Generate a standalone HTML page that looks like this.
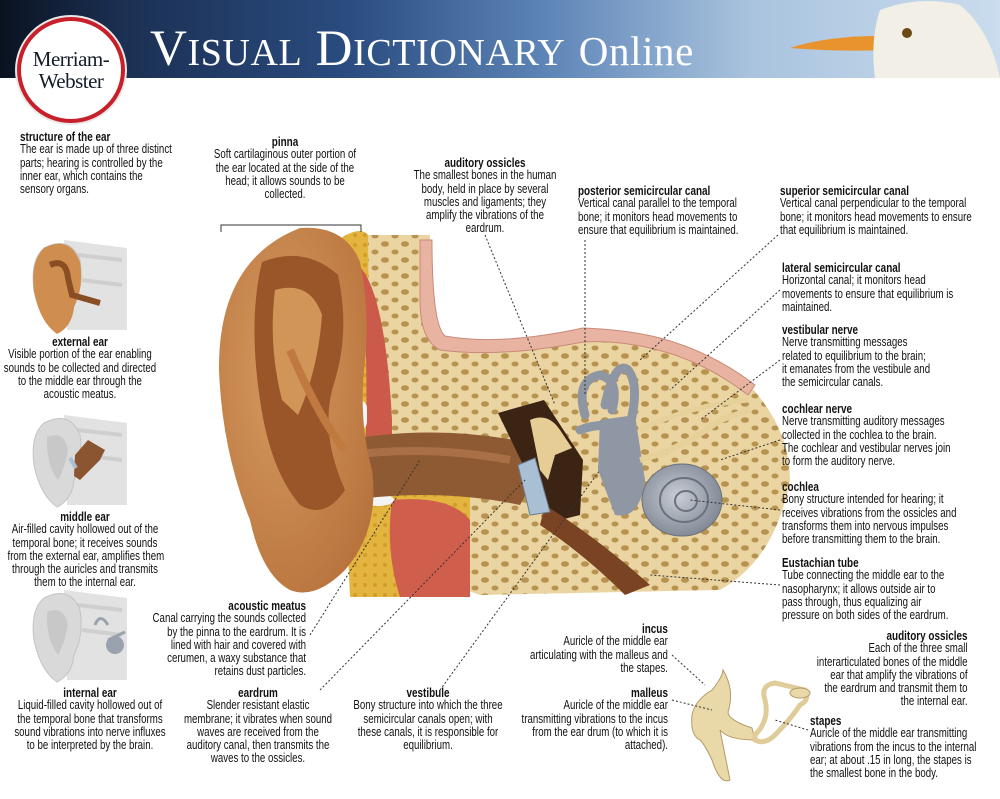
<!DOCTYPE html>
<html><head><meta charset="utf-8"><style>
*{margin:0;padding:0}
body{width:1000px;height:799px;position:relative;background:#fff;overflow:hidden;font-family:"Liberation Sans",Arial,sans-serif;color:#111}
.t{position:absolute;font-size:12.5px;line-height:13.3px;white-space:nowrap;transform:scaleX(.775)}
.l{transform-origin:left top}
.c{transform-origin:center top;text-align:center}
.r{transform-origin:right top;text-align:right}
.t b{display:block;font-size:12.8px}
</style></head><body>
<svg width="1000" height="799" style="position:absolute;left:0;top:0">
<defs>
<linearGradient id="hd" x1="0" x2="1"><stop offset="0" stop-color="#0a1220"/><stop offset=".12" stop-color="#1b2f52"/><stop offset=".35" stop-color="#2a4c80"/><stop offset=".55" stop-color="#5f86b8"/><stop offset=".75" stop-color="#a9c3de"/><stop offset="1" stop-color="#cadcee"/></linearGradient>
<pattern id="sp" width="20" height="16" patternUnits="userSpaceOnUse"><rect width="20" height="16" fill="#ead4a2"/><ellipse cx="5" cy="4" rx="4" ry="2.8" fill="#b8924f"/><ellipse cx="15" cy="12" rx="3.5" ry="2.5" fill="#b8924f"/></pattern>
<pattern id="fat" width="10" height="10" patternUnits="userSpaceOnUse"><rect width="10" height="10" fill="#e3b43e"/><circle cx="5" cy="5" r="2" fill="#d29d2a"/></pattern>
<radialGradient id="ear" cx=".4" cy=".4" r=".7"><stop offset="0" stop-color="#d59a5e"/><stop offset="1" stop-color="#b8733d"/></radialGradient>
<radialGradient id="coch" cx=".45" cy=".45" r=".6"><stop offset="0" stop-color="#c9ced6"/><stop offset="1" stop-color="#7d8591"/></radialGradient>
<g id="thumb">
<path d="M42 0 L105 8 L105 90 L45 90Z" fill="#e2e2e2"/>
<path d="M55 15 L100 20 M60 40 L100 45" stroke="#cfcfcf" stroke-width="4"/>
<path d="M22 8 Q48 -5 58 20 Q62 45 52 65 Q50 85 35 92 Q18 80 12 50 Q8 20 22 8Z" fill="#d9d9d9" stroke="#c4c4c4"/>
<path d="M25 22 Q42 15 46 35 Q42 55 36 65 Q24 50 25 22Z" fill="#c8c8c8"/>
</g>
</defs>
<rect x="0" y="0" width="1000" height="78" fill="url(#hd)"/>
<path d="M790 48 Q830 35 890 36 L888 50 Q840 52 790 48Z" fill="#e8932e"/>
<path d="M880 10 Q920 -5 960 5 Q990 30 1000 78 L875 78 Q870 40 880 10Z" fill="#f1efe6"/>
<circle cx="907" cy="33" r="5" fill="#6a4a10"/>
<!-- bone -->
<path d="M365 235 L430 235 L430 253 Q432 330 440 338 Q470 348 583 330 Q630 332 659 340 Q710 355 751 387 Q790 430 790 480 Q775 560 720 590 L480 595 L380 560 L365 480Z" fill="url(#sp)"/>
<path d="M420 240 L432 240 Q432 325 445 336 Q500 346 583 328 Q630 330 660 338 Q712 352 755 385 L748 395 Q705 362 658 350 Q620 340 583 342 Q500 358 440 350 Q420 340 420 300Z" fill="#e8b3a0" stroke="#c98a7a"/>
<!-- fat layers -->
<path d="M338 240 Q360 225 368 235 L370 460 L345 470 Q342 300 338 240Z" fill="url(#fat)"/>
<path d="M358 265 Q385 290 392 420 L392 470 L365 465 Q370 330 358 265Z" fill="#cc5a4a"/>
<rect x="345" y="285" width="14" height="20" rx="6" fill="#f4f4f4"/>
<rect x="345" y="320" width="14" height="22" rx="6" fill="#f4f4f4"/>
<rect x="345" y="400" width="22" height="30" rx="8" fill="#f4f4f4"/>
<path d="M345 490 Q420 478 470 490 L470 597 L350 597Z" fill="url(#fat)"/>
<path d="M392 500 Q450 495 470 520 L470 597 L400 597 Q385 550 392 500Z" fill="#cf5e4d"/>
<ellipse cx="378" cy="500" rx="16" ry="6" fill="#f4f4f4"/>
<ellipse cx="410" cy="488" rx="10" ry="4" fill="#f4f4f4"/>
<!-- canal -->
<path d="M345 440 Q430 425 515 440 L540 470 L520 505 Q440 488 350 500Z" fill="#8e5a33"/>
<path d="M350 455 Q430 445 510 460" stroke="#a97045" stroke-width="8" fill="none"/>
<!-- middle ear cavity -->
<path d="M498 413 L544 400 L583 460 L580 515 L560 520 L540 500 Z" fill="#3b2414"/>
<path d="M545 505 Q600 540 650 585 L625 595 Q585 555 540 525Z" fill="#7a4424"/>
<polygon points="518,465 535,458 550,512 530,515" fill="#a9bfd3" stroke="#6c7f95"/>
<path d="M530 420 Q548 412 560 430 L572 448 L555 455 L548 480 L540 470 L535 445Z" fill="#e6cd96"/>
<!-- inner ear -->
<g fill="none" stroke="#8e96a3" stroke-width="9" stroke-linecap="round">
<path d="M585 415 Q575 380 600 375 Q620 380 612 410"/>
<path d="M605 405 Q615 360 628 370 Q640 385 630 425"/>
<path d="M580 430 Q600 422 625 428"/>
</g>
<path d="M600 420 L635 415 L645 480 Q640 520 615 515 L598 470Z" fill="#8f97a4"/>
<ellipse cx="682" cy="500" rx="40" ry="36" fill="url(#coch)" stroke="#6a717c"/>
<ellipse cx="684" cy="500" rx="24" ry="22" fill="none" stroke="#6a717c" stroke-width="2"/>
<ellipse cx="686" cy="501" rx="11" ry="10" fill="none" stroke="#6a717c" stroke-width="2"/>
<path d="M640 430 Q690 405 748 400" stroke="#e5d199" stroke-width="5" fill="none"/>
<path d="M640 460 Q680 450 720 420 L750 410" stroke="#e5d199" stroke-width="6" fill="none"/>
<!-- ear pinna -->
<path d="M300 228 Q345 225 360 262 Q370 310 365 360 Q358 420 372 470 Q380 530 345 570 Q315 600 290 590 Q262 575 250 520 Q222 450 219 370 Q218 260 300 228Z" fill="url(#ear)"/>
<path d="M262 262 Q305 245 338 275 Q350 330 335 380 Q318 430 345 490 Q325 520 300 505 Q270 470 260 400 Q248 320 262 262Z" fill="#9a5629"/>
<path d="M275 290 Q310 280 322 315 Q318 370 298 415 L282 400 Q268 345 275 290Z" fill="#d29558"/>
<path d="M290 350 Q320 420 345 450" stroke="#c07a40" stroke-width="8" fill="none"/>
<!-- left thumbnails -->
<use href="#thumb" x="22" y="240"/>
<path d="M44 248 Q70 235 80 262 Q84 287 74 307 Q72 327 57 334 Q40 322 34 292 Q30 262 44 248Z" fill="#cf8d50"/>
<path d="M50 265 Q66 258 68 278 L72 295 L100 303" stroke="#8a4e24" stroke-width="6" fill="none"/>
<use href="#thumb" x="22" y="415"/>
<path d="M75 455 L88 440 L105 450 L100 460 L80 480 L74 476Z" fill="#8a5530"/>
<path d="M70 458 L76 468" stroke="#a9bfd3" stroke-width="4"/>
<use href="#thumb" x="22" y="590"/>
<circle cx="115" cy="645" r="9" fill="#9aa2ad"/>
<path d="M95 625 Q100 612 108 625 M108 640 L125 632" stroke="#9aa2ad" stroke-width="3" fill="none"/>
<!-- ossicles -->
<path d="M700 700 Q705 680 725 680 Q718 660 723 670 L723 670 Q735 690 730 720 L742 730 Q760 740 770 720" fill="none"/>
<path d="M712 690 Q722 678 723 670 Q735 690 728 712 Q728 720 752 728 L755 740 Q728 740 720 730 L730 780 Q720 785 712 760 Q705 745 700 740 Q690 735 692 715 Q695 700 712 690Z" fill="#ead9a8" stroke="#b39a66"/>
<path d="M755 735 Q770 720 765 700 Q760 685 775 683 L805 690 Q810 700 800 705 Q790 720 775 735 Q765 745 755 740Z" fill="none" stroke="#e0cc98" stroke-width="5"/>
<ellipse cx="800" cy="693" rx="10" ry="5" fill="#ead9a8" stroke="#b39a66"/>
<!-- pinna bracket -->
<path d="M221 232 L221 225 L361 225 L361 232" fill="none" stroke="#333"/>
<g stroke="#333" stroke-dasharray="2,2" fill="none">
<line x1="485" y1="235" x2="555" y2="405"/>
<line x1="585" y1="240" x2="585" y2="395"/>
<line x1="778" y1="235" x2="640" y2="360"/>
<line x1="780" y1="290" x2="670" y2="390"/>
<line x1="780" y1="360" x2="700" y2="420"/>
<line x1="780" y1="440" x2="720" y2="460"/>
<line x1="780" y1="510" x2="690" y2="500"/>
<line x1="780" y1="585" x2="650" y2="575"/>
<line x1="310" y1="635" x2="420" y2="460"/>
<line x1="320" y1="690" x2="525" y2="480"/>
<line x1="440" y1="690" x2="600" y2="470"/>
<line x1="672" y1="655" x2="705" y2="685"/>
<line x1="672" y1="700" x2="712" y2="710"/>
<line x1="808" y1="730" x2="775" y2="720"/>
</g>
</svg>
<div style="position:absolute;left:17px;top:17px;width:108px;height:106px;border-radius:50%;background:#fff;border:4px solid #c8202b;box-sizing:border-box;box-shadow:0 0 0 2px #e8e8e8"></div>
<div style="position:absolute;left:17px;top:48px;width:108px;text-align:center;font-family:'Liberation Serif',serif;font-size:21px;line-height:22px;color:#141c2c;letter-spacing:-.5px">Merriam-<br>Webster</div>
<div style="position:absolute;left:150px;top:20px;font-family:'Liberation Serif',serif;color:#fff;font-size:51px;letter-spacing:.6px;white-space:nowrap">V<span style="font-size:38px">ISUAL</span> D<span style="font-size:38px">ICTIONARY</span> <span style="font-size:41px">Online</span></div>

<div class="t l" style="left:20px;top:130px"><b>structure of the ear</b>The ear is made up of three distinct<br>parts; hearing is controlled by the<br>inner ear, which contains the<br>sensory organs.</div>
<div class="t c" style="left:-20px;width:200px;top:335px"><b>external ear</b>Visible portion of the ear enabling<br>sounds to be collected and directed<br>to the middle ear through the<br>acoustic meatus.</div>
<div class="t c" style="left:-15px;width:200px;top:510px"><b>middle ear</b>Air-filled cavity hollowed out of the<br>temporal bone; it receives sounds<br>from the external ear, amplifies them<br>through the auricles and transmits<br>them to the internal ear.</div>
<div class="t c" style="left:-10px;width:200px;top:686px"><b>internal ear</b>Liquid-filled cavity hollowed out of<br>the temporal bone that transforms<br>sound vibrations into nerve influxes<br>to be interpreted by the brain.</div>
<div class="t c" style="left:185px;width:200px;top:135px"><b>pinna</b>Soft cartilaginous outer portion of<br>the ear located at the side of the<br>head; it allows sounds to be<br>collected.</div>
<div class="t c" style="left:385px;width:200px;top:156px"><b>auditory ossicles</b>The smallest bones in the human<br>body, held in place by several<br>muscles and ligaments; they<br>amplify the vibrations of the<br>eardrum.</div>
<div class="t l" style="left:578px;top:184px"><b>posterior semicircular canal</b>Vertical canal parallel to the temporal<br>bone; it monitors head movements to<br>ensure that equilibrium is maintained.</div>
<div class="t l" style="left:780px;top:184px"><b>superior semicircular canal</b>Vertical canal perpendicular to the temporal<br>bone; it monitors head movements to ensure<br>that equilibrium is maintained.</div>
<div class="t l" style="left:782px;top:261px"><b>lateral semicircular canal</b>Horizontal canal; it monitors head<br>movements to ensure that equilibrium is<br>maintained.</div>
<div class="t l" style="left:782px;top:323px"><b>vestibular nerve</b>Nerve transmitting messages<br>related to equilibrium to the brain;<br>it emanates from the vestibule and<br>the semicircular canals.</div>
<div class="t l" style="left:782px;top:402px"><b>cochlear nerve</b>Nerve transmitting auditory messages<br>collected in the cochlea to the brain.<br>The cochlear and vestibular nerves join<br>to form the auditory nerve.</div>
<div class="t l" style="left:782px;top:480px"><b>cochlea</b>Bony structure intended for hearing; it<br>receives vibrations from the ossicles and<br>transforms them into nervous impulses<br>before transmitting them to the brain.</div>
<div class="t l" style="left:782px;top:556px"><b>Eustachian tube</b>Tube connecting the middle ear to the<br>nasopharynx; it allows outside air to<br>pass through, thus equalizing air<br>pressure on both sides of the eardrum.</div>
<div class="t r" style="right:32px;top:629px"><b>auditory ossicles</b>Each of the three small<br>interarticulated bones of the middle<br>ear that amplify the vibrations of<br>the eardrum and transmit them to<br>the internal ear.</div>
<div class="t l" style="left:810px;top:714px"><b>stapes</b>Auricle of the middle ear transmitting<br>vibrations from the incus to the internal<br>ear; at about .15 in long, the stapes is<br>the smallest bone in the body.</div>
<div class="t r" style="right:332px;top:622px"><b>incus</b>Auricle of the middle ear<br>articulating with the malleus and<br>the stapes.</div>
<div class="t r" style="right:332px;top:686px"><b>malleus</b>Auricle of the middle ear<br>transmitting vibrations to the incus<br>from the ear drum (to which it is<br>attached).</div>
<div class="t r" style="right:694px;top:599px"><b>acoustic meatus</b>Canal carrying the sounds collected<br>by the pinna to the eardrum. It is<br>lined with hair and covered with<br>cerumen, a waxy substance that<br>retains dust particles.</div>
<div class="t c" style="left:158px;width:200px;top:686px"><b>eardrum</b>Slender resistant elastic<br>membrane; it vibrates when sound<br>waves are received from the<br>auditory canal, then transmits the<br>waves to the ossicles.</div>
<div class="t c" style="left:328px;width:200px;top:686px"><b>vestibule</b>Bony structure into which the three<br>semicircular canals open; with<br>these canals, it is responsible for<br>equilibrium.</div>
</body></html>
